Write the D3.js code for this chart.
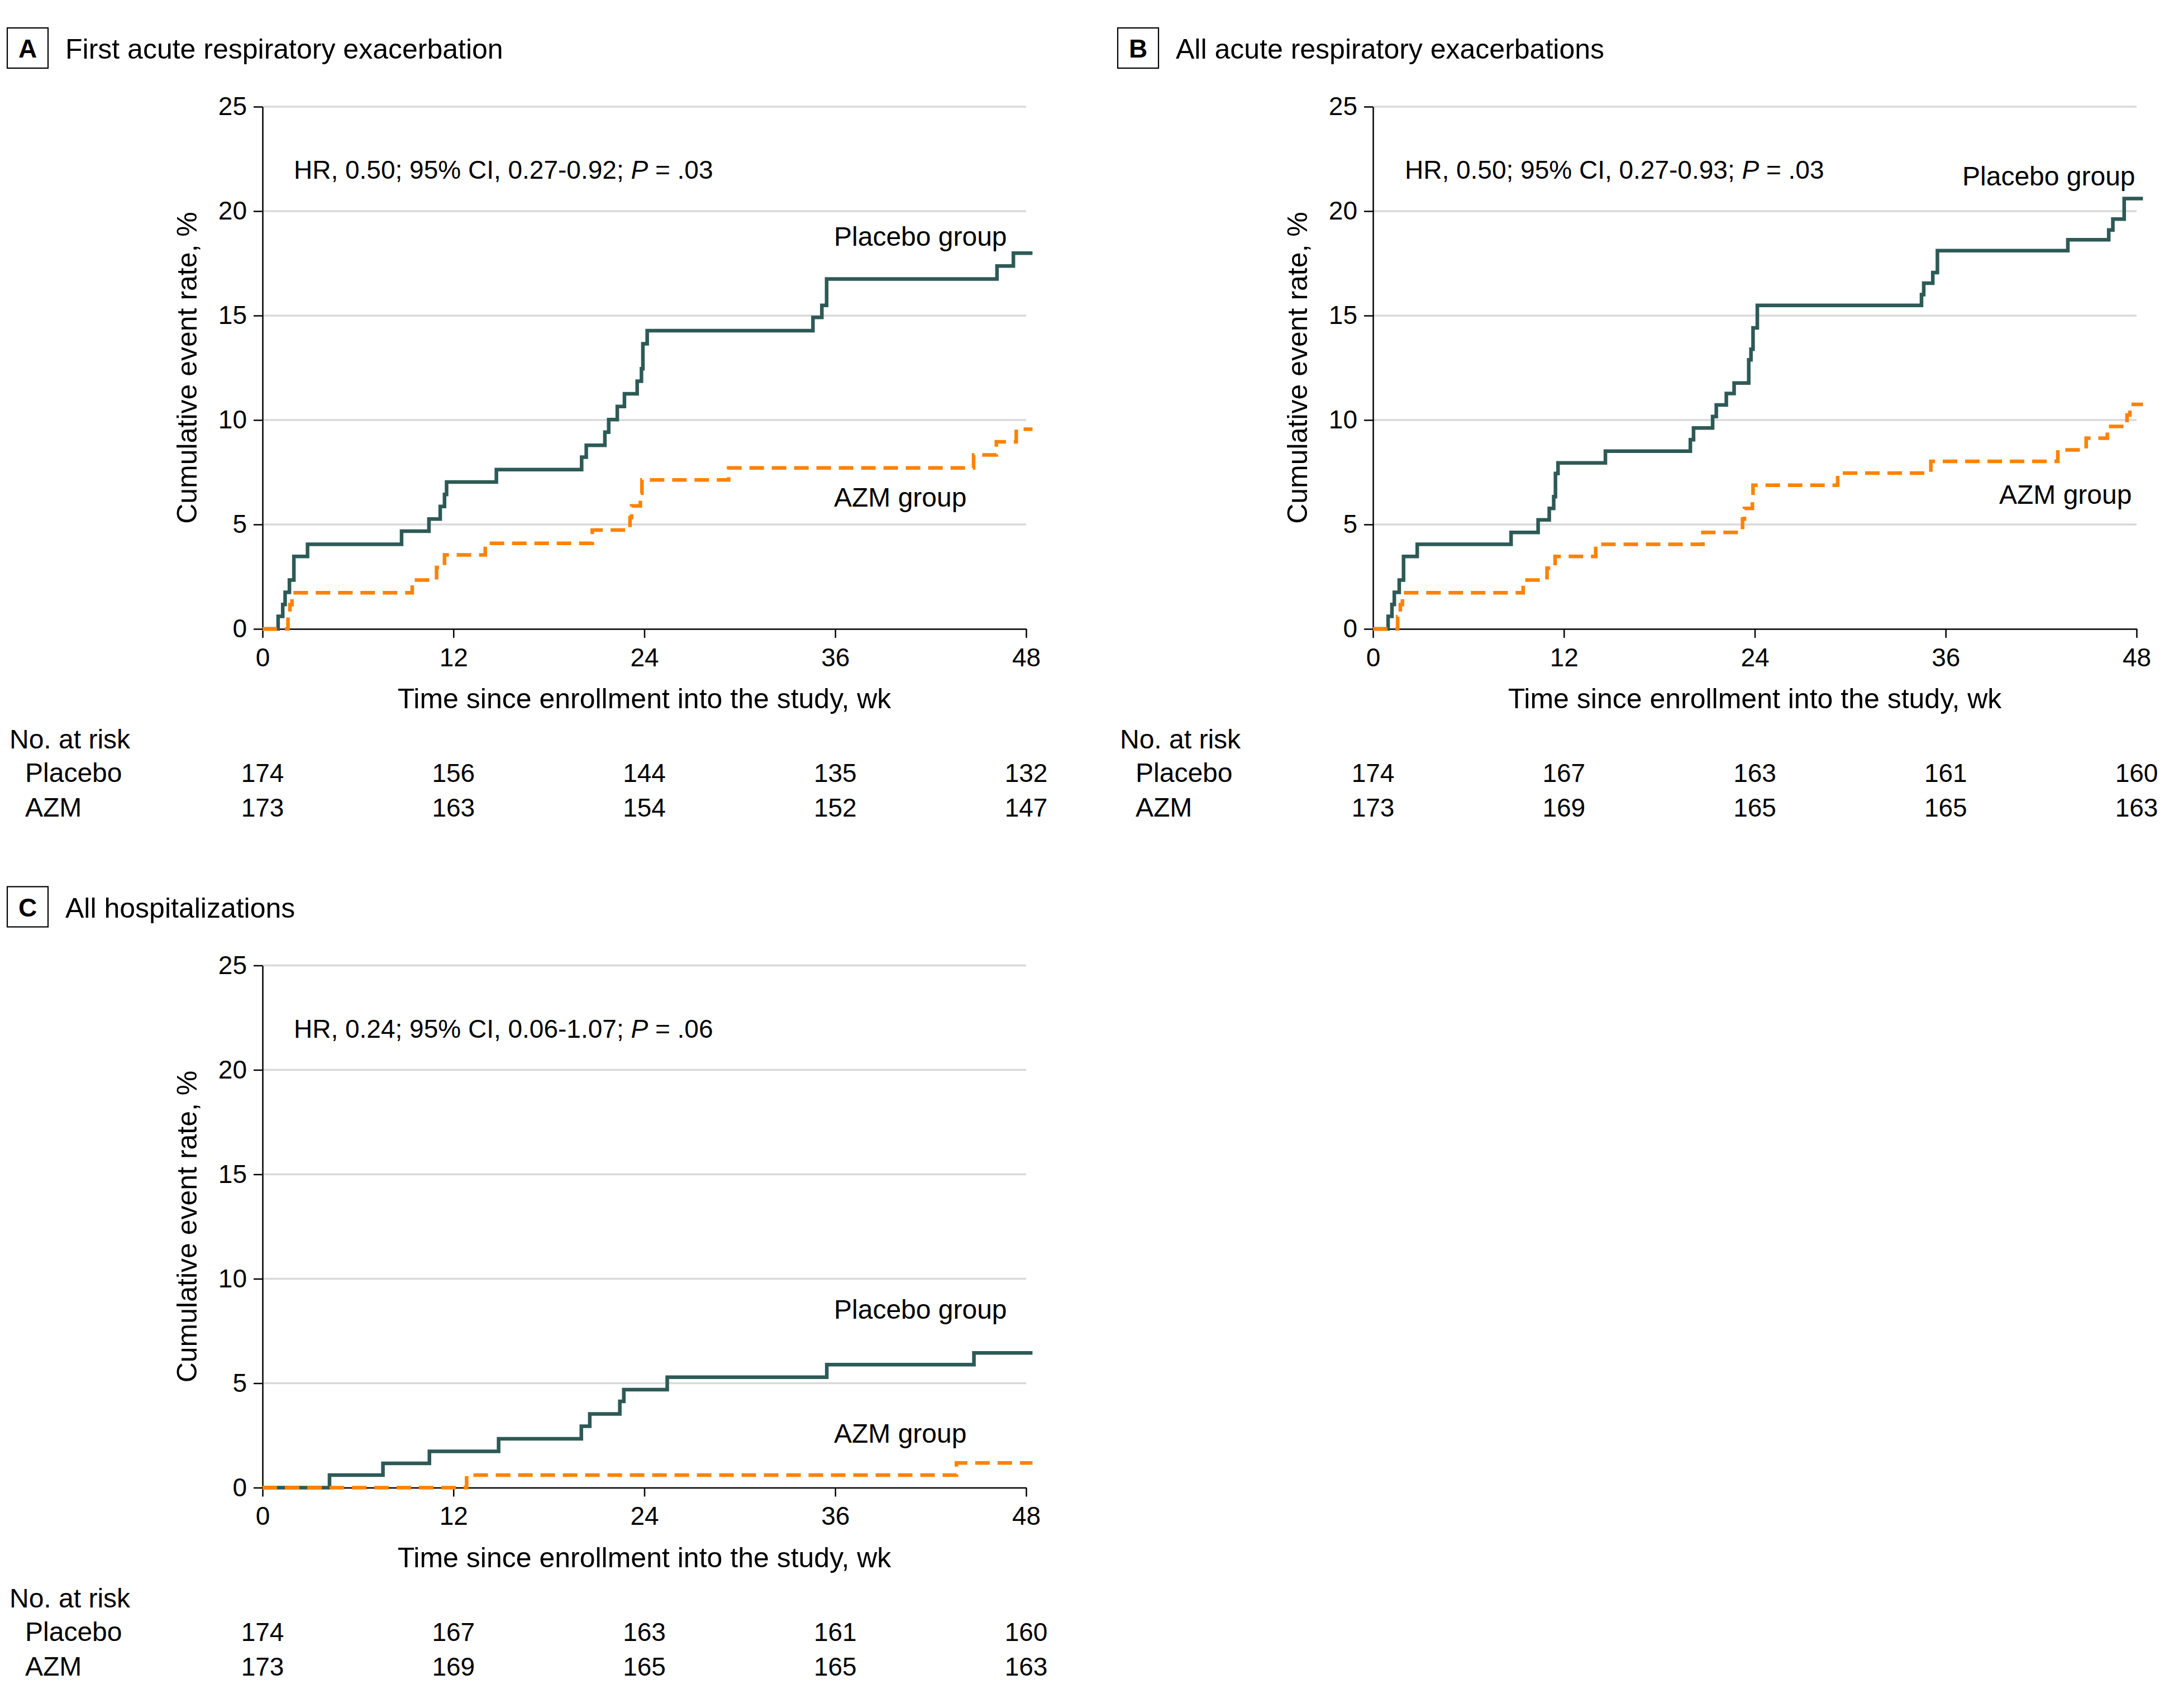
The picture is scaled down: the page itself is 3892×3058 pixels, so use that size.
<!DOCTYPE html>
<html><head><meta charset="utf-8">
<script src="https://cdn.jsdelivr.net/npm/d3@7"></script>
<style>
body{margin:0;background:#fff}
svg text{font-family:"Liberation Sans",Arial,sans-serif;fill:#000}
</style>
</head><body>
<svg id="chart" width="3892" height="3058"></svg>
<script>
// ---------- data ----------
const panelLetters = ["A", "B", "C"];
const panelTitles = ["First acute respiratory exacerbation", "All acute respiratory exacerbations", "All hospitalizations"];
const hrLead = ["HR, 0.50; 95% CI, 0.27-0.92; ", "HR, 0.50; 95% CI, 0.27-0.93; ", "HR, 0.24; 95% CI, 0.06-1.07; "];
const pValues = [".03", ".03", ".06"];
const xTicks = [0, 12, 24, 36, 48];
const yTicks = [0, 5, 10, 15, 20, 25];
const groupNames = ["Placebo group", "AZM group"];
const riskRowLabels = ["Placebo", "AZM"];
const xTitle = "Time since enrollment into the study, wk";
const yTitle = "Cumulative event rate, %";
const riskTitle = "No. at risk";

const riskPlaceboA = [174, 156, 144, 135, 132];
const riskAzmA     = [173, 163, 154, 152, 147];
const riskPlaceboB = [174, 167, 163, 161, 160];
const riskAzmB     = [173, 169, 165, 165, 163];
const riskPlaceboC = [174, 167, 163, 161, 160];
const riskAzmC     = [173, 169, 165, 165, 163];

const followUpEnd = 48.4;

// Panel A – first acute respiratory exacerbation (event week, cumulative %)
const aPlaceboWeeks = [0.98, 1.27, 1.42, 1.69, 1.97, 2.83, 8.74, 10.46, 11.17, 11.44, 11.57, 14.7, 20.06, 20.35, 21.52, 21.76, 22.3, 22.75, 23.55, 23.82, 23.91, 24.18, 34.6, 35.16, 35.46, 46.17, 47.2];
const aPlaceboRate  = [0.60, 1.17, 1.75, 2.34, 3.47, 4.05, 4.68, 5.26, 5.86, 6.44, 7.03, 7.63, 8.22, 8.79, 9.42, 10.02, 10.65, 11.26, 11.86, 12.45, 13.65, 14.28, 14.91, 15.49, 16.75, 17.37, 17.99];
const aAzmWeeks = [1.6, 1.72, 1.85, 9.41, 10.94, 11.44, 14.0, 20.73, 23.1, 23.2, 23.75, 23.85, 29.3, 44.7, 46.13, 47.38];
const aAzmRate  = [0.58, 1.16, 1.73, 2.34, 2.94, 3.54, 4.10, 4.73, 5.33, 5.89, 6.5, 7.13, 7.71, 8.33, 8.96, 9.56];

// Panel B – all acute respiratory exacerbations
const bPlaceboWeeks = [0.95, 1.19, 1.34, 1.65, 1.92, 2.78, 8.68, 10.38, 11.08, 11.36, 11.47, 11.63, 14.61, 19.95, 20.15, 21.35, 21.58, 22.21, 22.7, 23.62, 23.76, 23.89, 24.16, 34.48, 34.62, 35.19, 35.48, 43.68, 46.25, 46.51, 47.22];
const bPlaceboRate  = [0.60, 1.17, 1.75, 2.34, 3.47, 4.05, 4.62, 5.22, 5.77, 6.33, 7.44, 7.95, 8.51, 9.06, 9.62, 10.17, 10.72, 11.27, 11.77, 12.88, 13.39, 14.41, 15.49, 16.0, 16.55, 17.06, 18.11, 18.63, 19.1, 19.62, 20.6];
const bAzmWeeks = [1.55, 1.72, 1.85, 9.44, 10.94, 11.45, 14.0, 20.74, 23.23, 23.35, 23.85, 23.89, 29.21, 35.07, 43.05, 44.83, 46.16, 47.4, 47.58];
const bAzmRate  = [0.58, 1.16, 1.73, 2.34, 2.91, 3.47, 4.05, 4.62, 5.26, 5.77, 6.33, 6.88, 7.46, 8.02, 8.57, 9.13, 9.69, 10.24, 10.75];

// Panel C – all hospitalizations
const cPlaceboWeeks = [4.21, 7.57, 10.49, 14.84, 20.04, 20.57, 22.46, 22.71, 25.44, 35.47, 44.72];
const cPlaceboRate  = [0.6, 1.16, 1.74, 2.34, 2.94, 3.53, 4.13, 4.69, 5.29, 5.89, 6.45];
const cAzmWeeks = [12.83, 43.62];
const cAzmRate  = [0.6, 1.18];

// ---------- layout / style ----------
const COL_PLACEBO = "#2d5a56";
const COL_AZM = "#ff8200";
const panels = [
  {ox: 0, oy: 0, pl: [aPlaceboWeeks, aPlaceboRate], az: [aAzmWeeks, aAzmRate], rp: riskPlaceboA, ra: riskAzmA,
   hrX: 526, lab: [[1493, 440], [1493, 907]]},
  {ox: 1988, oy: 0, pl: [bPlaceboWeeks, bPlaceboRate], az: [bAzmWeeks, bAzmRate], rp: riskPlaceboB, ra: riskAzmB,
   hrX: 527, lab: [[1525, 332], [1591, 902]]},
  {ox: 0, oy: 1537.5, pl: [cPlaceboWeeks, cPlaceboRate], az: [cAzmWeeks, cAzmRate], rp: riskPlaceboC, ra: riskAzmC,
   hrX: 526, lab: [[1493, 823], [1493, 1045]]}
];

const svg = d3.select("#chart");
svg.append("rect").attr("width", 3892).attr("height", 3058).attr("fill", "#fff");

const x = d3.scaleLinear().domain([0, 48]).range([470, 1837]);
const y = d3.scaleLinear().domain([0, 25]).range([1126, 191]);

function stepPoints(weeks, rates) {
  const pts = [[0, 0]];
  weeks.forEach((w, i) => pts.push([w, rates[i]]));
  pts.push([followUpEnd, rates[rates.length - 1]]);
  return pts;
}
const line = d3.line().x(d => x(d[0])).y(d => y(d[1])).curve(d3.curveStepAfter);

panels.forEach((p, i) => {
  const g = svg.append("g").attr("transform", `translate(${p.ox},${p.oy})`);

  // panel letter box + title
  g.append("rect").attr("x", 13).attr("y", 50).attr("width", 73).attr("height", 72)
    .attr("fill", "#fff").attr("stroke", "#000").attr("stroke-width", 2.2);
  g.append("text").attr("x", 49.5).attr("y", 103).attr("text-anchor", "middle")
    .attr("font-size", 46).attr("font-weight", "bold").text(panelLetters[i]);
  g.append("text").attr("x", 117).attr("y", 105).attr("font-size", 50).text(panelTitles[i]);

  // gridlines
  g.append("g").selectAll("line").data(yTicks.filter(v => v > 0)).join("line")
    .attr("x1", x(0)).attr("x2", x(48)).attr("y1", d => y(d)).attr("y2", d => y(d))
    .attr("stroke", "#d9d9d9").attr("stroke-width", 3.5);

  // axes
  const gy = g.append("g").attr("transform", `translate(${x(0)},0)`)
    .call(d3.axisLeft(y).tickValues(yTicks).tickSize(16).tickSizeOuter(0).tickPadding(12));
  const gx = g.append("g").attr("transform", `translate(0,${y(0)})`)
    .call(d3.axisBottom(x).tickValues(xTicks).tickSize(16).tickSizeOuter(0).tickPadding(18));
  [gy, gx].forEach(a => {
    a.attr("font-size", 46).attr("font-family", null);
    a.selectAll("path,line").attr("stroke", "#000").attr("stroke-width", 2.5);
  });

  // axis titles
  g.append("text").attr("transform", `translate(352,${(y(0) + y(25)) / 2}) rotate(-90)`)
    .attr("text-anchor", "middle").attr("font-size", 50).text(yTitle);
  g.append("text").attr("x", (x(0) + x(48)) / 2).attr("y", 1268)
    .attr("text-anchor", "middle").attr("font-size", 50).text(xTitle);

  // HR annotation
  const hr = g.append("text").attr("x", p.hrX).attr("y", 320).attr("font-size", 46);
  hr.append("tspan").text(hrLead[i]);
  hr.append("tspan").attr("font-style", "italic").text("P");
  hr.append("tspan").text(" = " + pValues[i]);

  // curves
  g.append("path").attr("d", line(stepPoints(p.pl[0], p.pl[1])))
    .attr("fill", "none").attr("stroke", COL_PLACEBO).attr("stroke-width", 6.5);
  g.append("path").attr("d", line(stepPoints(p.az[0], p.az[1])))
    .attr("fill", "none").attr("stroke", COL_AZM).attr("stroke-width", 6.5)
    .attr("stroke-dasharray", "26,14");

  // group labels
  groupNames.forEach((n, k) => {
    g.append("text").attr("x", p.lab[k][0]).attr("y", p.lab[k][1]).attr("font-size", 48).text(n);
  });

  // number at risk
  g.append("text").attr("x", 17).attr("y", 1340).attr("font-size", 48).text(riskTitle);
  [p.rp, p.ra].forEach((row, k) => {
    const by = 1400 + k * 62;
    g.append("text").attr("x", 45).attr("y", by).attr("font-size", 48).text(riskRowLabels[k]);
    g.append("g").selectAll("text").data(row).join("text")
      .attr("x", (d, j) => x(xTicks[j])).attr("y", by)
      .attr("text-anchor", "middle").attr("font-size", 46).text(d => d);
  });
});
</script>
</body></html>
